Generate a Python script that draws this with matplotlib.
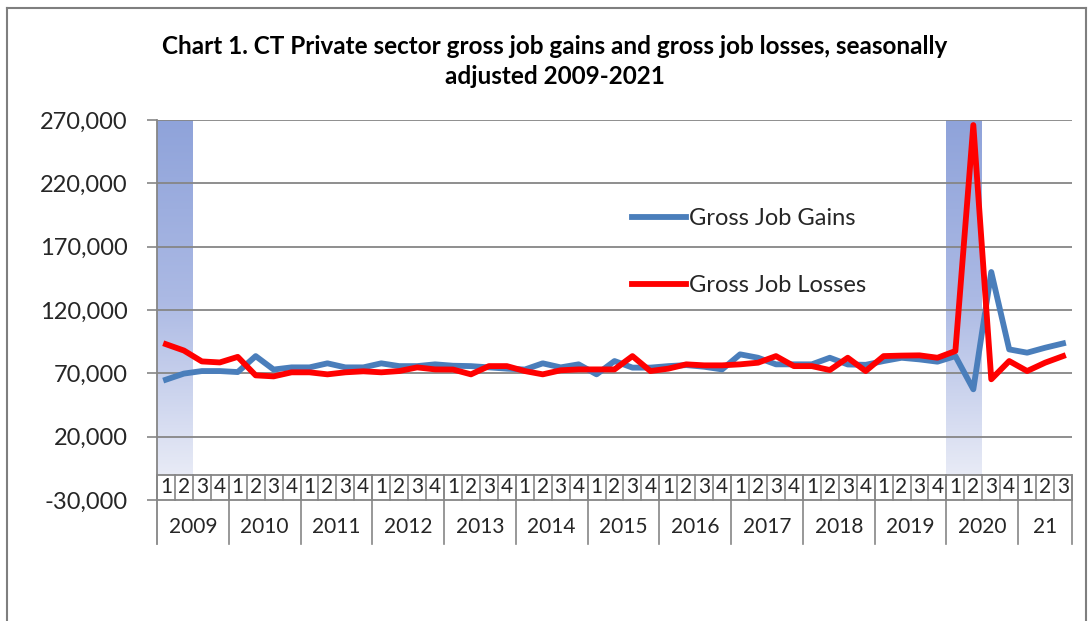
import numpy as np
import matplotlib
matplotlib.use('Agg')
import matplotlib.pyplot as plt
from matplotlib.colors import LinearSegmentedColormap
from matplotlib.lines import Line2D

# Chart data, quarters 2009Q1 .. 2021Q3
years = ['2009', '2010', '2011', '2012', '2013', '2014', '2015',
         '2016', '2017', '2018', '2019', '2020', '21']
quartersPerYear = [4, 4, 4, 4, 4, 4, 4, 4, 4, 4, 4, 4, 3]

gains = [65000, 69800, 71800, 71800, 71000, 83600, 73000, 74700,
         74700, 77900, 74700, 74700, 77900, 75700, 75700, 77100,
         76000, 75700, 74700, 73700, 73000, 77900, 74700, 77100,
         69200, 79700, 74500, 74500, 75700, 76500, 75200, 73100,
         85000, 82300, 77100, 77100, 77100, 82300, 77000, 76700,
         79700, 82300, 81000, 79200, 83600, 57400, 150000, 88900,
         86300, 90200, 93600]

losses = [93000, 88000, 79400, 78600, 83000, 68400, 67600, 70800,
          70800, 69200, 70800, 71600, 70800, 71800, 74700, 73100,
          73000, 69200, 75700, 75700, 71800, 69200, 72400, 73100,
          73100, 73100, 83600, 71800, 73700, 77100, 76300, 76300,
          77100, 78400, 83600, 75700, 75700, 72600, 82300, 71800,
          83600, 84000, 84200, 82300, 87600, 266000, 65300, 79700,
          71800, 78400, 83600]

yTicks = [-30000, 20000, 70000, 120000, 170000, 220000, 270000]
# recession shading: (first quarter index, last quarter index)
recessions = [(0, 1), (44, 45)]

plt.rcParams['font.family'] = ['Lato', 'DejaVu Sans']
textColor = '#262626'
gridColor = '#868686'

fig = plt.figure(figsize=(10.91, 6.21), dpi=100)
W, H = 1091, 621
ax = fig.add_axes([157 / W, 1 - 500 / H, (1072 - 157) / W, (500 - 120) / H])

n = len(gains)
x = np.arange(n)
axisCross = -10000
yearRowBottom = -65000

# gradient shading bands
cmap = LinearSegmentedColormap.from_list('band', ['#8FA3DA', '#ABB9E4', '#E8EBF6'])
grad = np.linspace(0, 1, 256).reshape(-1, 1)
for a, b in recessions:
    ax.imshow(grad, cmap=cmap, aspect='auto', extent=[a - 0.5, b + 0.5, axisCross, 270000],
              origin='upper', zorder=1)
ax.set_xlim(-0.5, n - 0.5)
ax.set_ylim(-30000, 270000)

# gridlines
for t in yTicks:
    if t >= 20000:
        ax.axhline(t, color=gridColor, lw=1.3, zorder=2)
ax.plot([-0.5, n - 0.5], [axisCross, axisCross], color=gridColor, lw=1.3, zorder=2)
ax.plot([-0.5, n - 0.5], [-30000, -30000], color=gridColor, lw=1.3, zorder=2, clip_on=False)

for s in ax.spines.values():
    s.set_visible(False)
ax.plot([-0.5, -0.5], [yearRowBottom, 270000], color=gridColor, lw=1.3, clip_on=False, zorder=2)

# series
ax.plot(x, gains, color='#4A7EBB', lw=4.2, zorder=4, label='Gross Job Gains',
        solid_joinstyle='round')
ax.plot(x, losses, color='#FF0000', lw=4.2, zorder=5, label='Gross Job Losses',
        solid_joinstyle='round')

# y axis
ax.set_yticks(yTicks)
ax.set_yticklabels(['{:,}'.format(t) for t in yTicks])
ax.tick_params(axis='y', direction='out', length=7, width=1.2, color=gridColor,
               labelsize=17, labelcolor=textColor, pad=14)
ax.set_xticks([])

# multi level category axis
for k in range(n + 1):
    ax.plot([k - 0.5, k - 0.5], [axisCross, -30000], color=gridColor, lw=1.2, clip_on=False)
pos = 0
for yr, q in zip(years, quartersPerYear):
    for j in range(q):
        ax.text(pos + j, -19500, str(j + 1), ha='center', va='center', fontsize=15,
                color=textColor, clip_on=False)
    ax.text(pos + (q - 1) / 2, -51500, yr, ha='center', va='center', fontsize=15,
            color=textColor, clip_on=False)
    pos += q
    ax.plot([pos - 0.5, pos - 0.5], [axisCross, yearRowBottom], color=gridColor, lw=1.2,
            clip_on=False)

# legend
ax.legend(loc='upper left', bbox_to_anchor=(632 / W, 1 - 208 / H),
          bbox_transform=fig.transFigure, frameon=False, fontsize=17,
          handlelength=2.3, handletextpad=0.12, labelspacing=1.95,
          borderpad=0, borderaxespad=0, labelcolor=textColor)

# title
fig.text(555 / W, 1 - 47 / H,
         'Chart 1. CT Private sector gross job gains and gross job losses, seasonally',
         ha='center', va='center', fontsize=17.5, fontweight='bold', color='black')
fig.text(555 / W, 1 - 76 / H, 'adjusted 2009-2021',
         ha='center', va='center', fontsize=17.5, fontweight='bold', color='black')

# outer chart border
frameColor = '#7F7F7F'
fig.add_artist(Line2D([7 / W, 7 / W], [0, 1 - 8 / H], color=frameColor, lw=1.5))
fig.add_artist(Line2D([7 / W, 1086 / W], [1 - 8 / H, 1 - 8 / H], color=frameColor, lw=1.5))
fig.add_artist(Line2D([1086 / W, 1086 / W], [0, 1 - 8 / H], color=frameColor, lw=1.5))

fig.savefig('out.png', dpi=100)
plt.close()
